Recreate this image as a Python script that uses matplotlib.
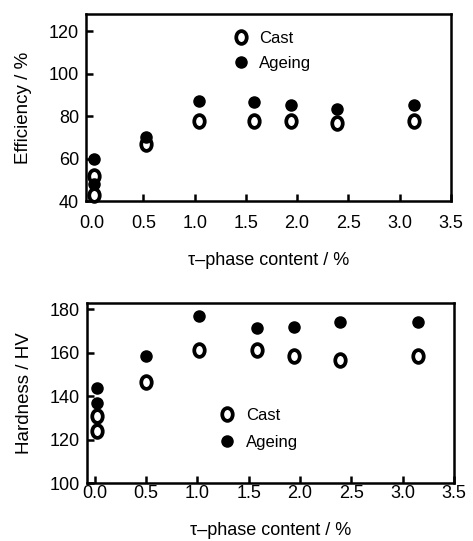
import matplotlib
matplotlib.use("Agg")
import matplotlib.pyplot as plt
from matplotlib.path import Path
from matplotlib.transforms import Affine2D

plt.rcParams['font.family'] = ['Liberation Sans', 'DejaVu Sans']

# top panel: efficiency
eff_x_cast = [0.02, 0.02, 0.52, 1.04, 1.58, 1.94, 2.39, 3.14]
eff_cast = [52, 43, 67, 77.5, 77.5, 77.5, 77, 77.5]
eff_x_age = [0.02, 0.02, 0.52, 1.04, 1.58, 1.94, 2.39, 3.14]
eff_age = [60, 48, 70, 87, 86.5, 85.3, 83.3, 85.3]

# bottom panel: hardness
hv_x_cast = [0.02, 0.02, 0.5, 1.02, 1.58, 1.94, 2.39, 3.15]
hv_cast = [131, 124, 146.7, 161.4, 161.4, 158.5, 156.5, 158.5]
hv_x_age = [0.02, 0.02, 0.5, 1.02, 1.58, 1.94, 2.39, 3.15]
hv_age = [143.6, 137, 158.5, 177, 171.4, 172, 174, 174.4]

xticks = [0.0, 0.5, 1.0, 1.5, 2.0, 2.5, 3.0, 3.5]
xlabel = "τ–phase content / %"

ring = Path.unit_circle().transformed(Affine2D().scale(0.82, 1.0))

fig = plt.figure(figsize=(4.73, 5.41), dpi=100)
ax1 = fig.add_axes([0.182, 0.628, 0.771, 0.346])
ax2 = fig.add_axes([0.183, 0.107, 0.777, 0.333])


def style(ax, xpad):
    for s in ax.spines.values():
        s.set_linewidth(1.8)
    ax.tick_params(axis='both', direction='in', labelsize=13, width=1.8, length=5)
    ax.tick_params(axis='x', pad=xpad)
    ax.tick_params(axis='y', pad=5)
    ax.set_xticks(xticks)
    ax.set_xticklabels([f"{t:.1f}" for t in xticks])
    ax.set_xlabel(xlabel, fontsize=13, labelpad=14)


ax1.plot(eff_x_cast, eff_cast, linestyle='none', marker=ring, markersize=9.2,
         markerfacecolor='white', markeredgecolor='black', markeredgewidth=2.7,
         label='Cast', clip_on=False)
ax1.plot(eff_x_age, eff_age, linestyle='none', marker='o', markersize=8,
         color='black', label='Ageing', clip_on=False)
ax1.set_xlim(-0.06, 3.5)
ax1.set_ylim(41.5, 128)
ax1.set_yticks([40, 60, 80, 100, 120])
ax1.set_ylabel("Efficiency / %", fontsize=13.5, labelpad=12)
style(ax1, 10)
ax1.legend(loc='upper left', bbox_to_anchor=(0.36, 0.99), frameon=False,
           fontsize=12, handlelength=1.0, handletextpad=0.6, labelspacing=0.6)

ax2.plot(hv_x_cast, hv_cast, linestyle='none', marker=ring, markersize=9.2,
         markerfacecolor='white', markeredgecolor='black', markeredgewidth=2.7,
         label='Cast', clip_on=False)
ax2.plot(hv_x_age, hv_age, linestyle='none', marker='o', markersize=8,
         color='black', label='Ageing', clip_on=False)
ax2.set_xlim(-0.08, 3.5)
ax2.set_ylim(100, 183)
ax2.set_yticks([100, 120, 140, 160, 180])
ax2.set_ylabel("Hardness / HV", fontsize=13.5, labelpad=12)
style(ax2, 1.5)
ax2.legend(loc='upper left', bbox_to_anchor=(0.32, 0.50), frameon=False,
           fontsize=12, handlelength=1.0, handletextpad=0.6, labelspacing=0.7)

fig.savefig("out.png", dpi=100)
